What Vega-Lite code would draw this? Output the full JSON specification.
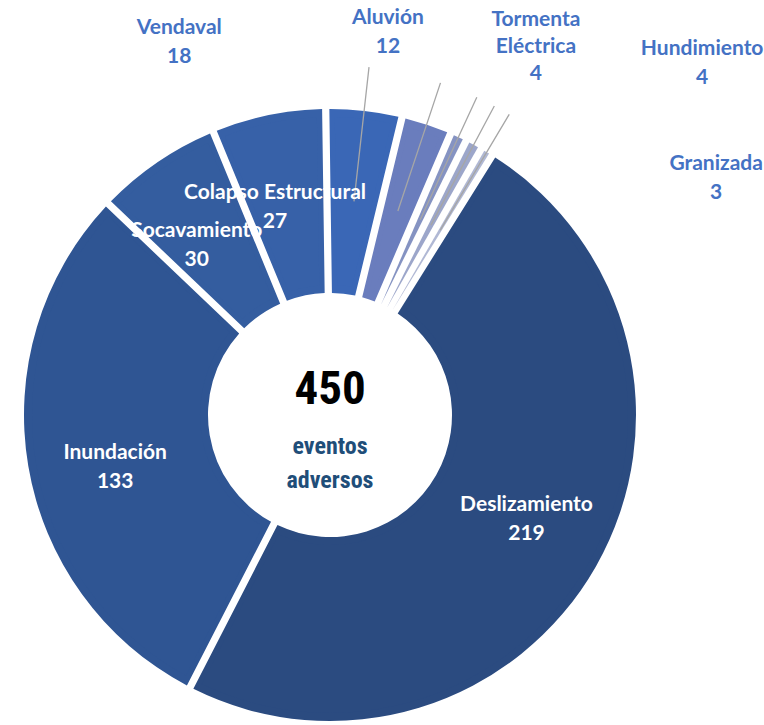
{
  "$schema": "https://vega.github.io/schema/vega-lite/v6.json",
  "autosize": "none",
  "width": 660,
  "height": 620,
  "padding": {"left": 0, "top": 105, "right": 104, "bottom": 0},
  "background": "white",
  "config": {"view": {"stroke": null}},
  "data": {
    "values": [
      {"categoria": "Deslizamiento", "valor": 219, "orden": 1},
      {"categoria": "Inundación", "valor": 133, "orden": 2},
      {"categoria": "Socavamiento", "valor": 30, "orden": 3},
      {"categoria": "Colapso Estructural", "valor": 27, "orden": 4},
      {"categoria": "Vendaval", "valor": 18, "orden": 5},
      {"categoria": "Aluvión", "valor": 12, "orden": 6},
      {"categoria": "Tormenta Eléctrica", "valor": 4, "orden": 7},
      {"categoria": "Hundimiento", "valor": 4, "orden": 8},
      {"categoria": "Granizada", "valor": 3, "orden": 9}
    ]
  },
  "layer": [
    {
      "mark": {"type": "arc", "radius": 306, "innerRadius": 122, "padAngle": 0.022},
      "encoding": {
        "theta": {"field": "valor", "type": "quantitative", "stack": true, "scale": {"range": [0.5585, 6.8417]}},
        "order": {"field": "orden", "type": "quantitative"},
        "color": {
          "field": "categoria", "type": "nominal", "legend": null,
          "scale": {
            "domain": ["Deslizamiento", "Inundación", "Socavamiento", "Colapso Estructural", "Vendaval", "Aluvión", "Tormenta Eléctrica", "Hundimiento", "Granizada"],
            "range": ["#2B4B80", "#2F5593", "#345D9F", "#3761A8", "#3A67B6", "#6A7DBD", "#8593C2", "#9CA6CA", "#B0B8D4"]
          }
        }
      }
    },
    {
      "mark": {"type": "arc", "radius": 298, "innerRadius": 130, "padAngle": 0.055},
      "encoding": {
        "theta": {"field": "valor", "type": "quantitative", "stack": true},
        "order": {"field": "orden", "type": "quantitative"},
        "color": {
          "field": "categoria", "type": "nominal", "legend": null,
          "scale": {
            "domain": ["Deslizamiento", "Inundación", "Socavamiento", "Colapso Estructural", "Vendaval", "Aluvión", "Tormenta Eléctrica", "Hundimiento", "Granizada"],
            "range": ["#2E4F87", "#33599A", "#3862A8", "#3C66B0", "#4271C2", "#7A8FD0", "#909DC9", "#A5AFD0", "#BAC1DA"]
          }
        }
      }
    },
    {
      "mark": {"type": "arc", "radius": 350, "innerRadius": 215, "padAngle": 0.6, "fill": "white", "fillOpacity": 0, "stroke": "#A6A6A6", "strokeWidth": 1.3},
      "encoding": {
        "theta": {"field": "valor", "type": "quantitative", "stack": true},
        "order": {"field": "orden", "type": "quantitative"},
        "strokeOpacity": {"condition": {"test": "datum.orden >= 5", "value": 1}, "value": 0}
      }
    },
    {
      "mark": {"type": "text", "radius": 220, "thetaOffset": -0.05, "dy": -9, "font": "Lato", "fontWeight": "bold", "fontSize": 21, "color": "white"},
      "encoding": {
        "theta": {"field": "valor", "type": "quantitative", "stack": true},
        "order": {"field": "orden", "type": "quantitative"},
        "text": {"condition": {"test": "datum.orden <= 4", "field": "categoria"}, "value": ""}
      }
    },
    {
      "mark": {"type": "text", "radius": 220, "thetaOffset": -0.05, "dy": 20, "font": "Lato", "fontWeight": "bold", "fontSize": 21, "color": "white"},
      "encoding": {
        "theta": {"field": "valor", "type": "quantitative", "stack": true},
        "order": {"field": "orden", "type": "quantitative"},
        "text": {"condition": {"test": "datum.orden <= 4", "field": "valor"}, "value": ""}
      }
    },
    {
      "mark": {"type": "text", "radius": 402, "thetaOffset": -0.496, "dy": -14, "font": "Lato", "fontWeight": "bold", "fontSize": 21, "color": "#4472C4"},
      "encoding": {
        "theta": {"field": "valor", "type": "quantitative", "stack": true},
        "order": {"field": "orden", "type": "quantitative"},
        "text": {"condition": {"test": "datum.categoria === 'Vendaval'", "field": "categoria"}, "value": ""}
      }
    },
    {
      "mark": {"type": "text", "radius": 402, "thetaOffset": -0.496, "dy": 15, "font": "Lato", "fontWeight": "bold", "fontSize": 21, "color": "#4472C4"},
      "encoding": {
        "theta": {"field": "valor", "type": "quantitative", "stack": true},
        "order": {"field": "orden", "type": "quantitative"},
        "text": {"condition": {"test": "datum.categoria === 'Vendaval'", "field": "valor"}, "value": ""}
      }
    },
    {
      "mark": {"type": "text", "radius": 387, "thetaOffset": -0.171, "dy": -14, "font": "Lato", "fontWeight": "bold", "fontSize": 21, "color": "#4472C4"},
      "encoding": {
        "theta": {"field": "valor", "type": "quantitative", "stack": true},
        "order": {"field": "orden", "type": "quantitative"},
        "text": {"condition": {"test": "datum.categoria === 'Aluvión'", "field": "categoria"}, "value": ""}
      }
    },
    {
      "mark": {"type": "text", "radius": 387, "thetaOffset": -0.171, "dy": 15, "font": "Lato", "fontWeight": "bold", "fontSize": 21, "color": "#4472C4"},
      "encoding": {
        "theta": {"field": "valor", "type": "quantitative", "stack": true},
        "order": {"field": "orden", "type": "quantitative"},
        "text": {"condition": {"test": "datum.categoria === 'Aluvión'", "field": "valor"}, "value": ""}
      }
    },
    {
      "mark": {"type": "text", "radius": 422, "thetaOffset": 0.077, "dy": -27, "lineBreak": " ", "lineHeight": 27, "font": "Lato", "fontWeight": "bold", "fontSize": 21, "color": "#4472C4"},
      "encoding": {
        "theta": {"field": "valor", "type": "quantitative", "stack": true},
        "order": {"field": "orden", "type": "quantitative"},
        "text": {"condition": {"test": "datum.categoria === 'Tormenta Eléctrica'", "field": "categoria"}, "value": ""}
      }
    },
    {
      "mark": {"type": "text", "radius": 422, "thetaOffset": 0.077, "dy": 27, "font": "Lato", "fontWeight": "bold", "fontSize": 21, "color": "#4472C4"},
      "encoding": {
        "theta": {"field": "valor", "type": "quantitative", "stack": true},
        "order": {"field": "orden", "type": "quantitative"},
        "text": {"condition": {"test": "datum.categoria === 'Tormenta Eléctrica'", "field": "valor"}, "value": ""}
      }
    },
    {
      "mark": {"type": "text", "radius": 512, "thetaOffset": 0.325, "dy": -14, "font": "Lato", "fontWeight": "bold", "fontSize": 21, "color": "#4472C4"},
      "encoding": {
        "theta": {"field": "valor", "type": "quantitative", "stack": true},
        "order": {"field": "orden", "type": "quantitative"},
        "text": {"condition": {"test": "datum.categoria === 'Hundimiento'", "field": "categoria"}, "value": ""}
      }
    },
    {
      "mark": {"type": "text", "radius": 512, "thetaOffset": 0.325, "dy": 15, "font": "Lato", "fontWeight": "bold", "fontSize": 21, "color": "#4472C4"},
      "encoding": {
        "theta": {"field": "valor", "type": "quantitative", "stack": true},
        "order": {"field": "orden", "type": "quantitative"},
        "text": {"condition": {"test": "datum.categoria === 'Hundimiento'", "field": "valor"}, "value": ""}
      }
    },
    {
      "mark": {"type": "text", "radius": 453, "thetaOffset": 0.483, "dy": -14, "font": "Lato", "fontWeight": "bold", "fontSize": 21, "color": "#4472C4"},
      "encoding": {
        "theta": {"field": "valor", "type": "quantitative", "stack": true},
        "order": {"field": "orden", "type": "quantitative"},
        "text": {"condition": {"test": "datum.categoria === 'Granizada'", "field": "categoria"}, "value": ""}
      }
    },
    {
      "mark": {"type": "text", "radius": 453, "thetaOffset": 0.483, "dy": 15, "font": "Lato", "fontWeight": "bold", "fontSize": 21, "color": "#4472C4"},
      "encoding": {
        "theta": {"field": "valor", "type": "quantitative", "stack": true},
        "order": {"field": "orden", "type": "quantitative"},
        "text": {"condition": {"test": "datum.categoria === 'Granizada'", "field": "valor"}, "value": ""}
      }
    },
    {
      "data": {"values": [{"total": "450"}]},
      "mark": {"type": "text", "dy": -25, "font": "Roboto Condensed, Liberation Sans Narrow, Arial Narrow, Roboto", "fontWeight": "bold", "fontSize": 47, "color": "#000000"},
      "encoding": {"text": {"field": "total"}}
    },
    {
      "data": {"values": [{"subtitulo": "eventos adversos"}]},
      "mark": {"type": "text", "dy": 32, "lineBreak": " ", "lineHeight": 34, "font": "Roboto Condensed, Liberation Sans Narrow, Arial Narrow, Roboto", "fontWeight": "bold", "fontSize": 24, "color": "#1F4E79"},
      "encoding": {"text": {"field": "subtitulo"}}
    }
  ]
}
